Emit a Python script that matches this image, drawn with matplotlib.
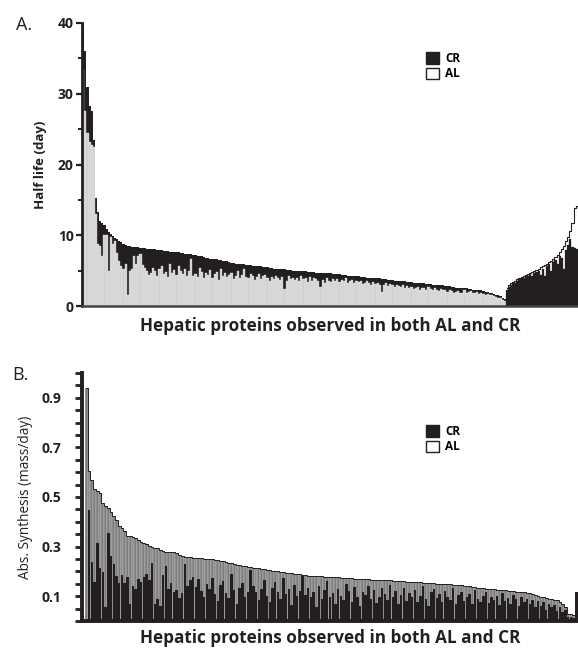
import numpy as np
import matplotlib
matplotlib.use("Agg")
import matplotlib.pyplot as plt
from matplotlib.patches import Patch
from matplotlib.ticker import FixedLocator

plt.rcParams['font.family'] = ['Open Sans', 'DejaVu Sans']

# ---------------- Panel A data (half life, days) ----------------
# proteins with CR > AL (sorted by CR, descending)
a_cr_left = [
    40.0, 36.0, 31.0, 28.2, 27.5, 23.5, 15.2, 13.3, 12.0, 11.8,
    11.4, 10.9, 10.5, 10.2, 9.9, 9.6, 9.4, 9.2, 9.0, 8.8,
    8.6, 8.5, 8.5, 8.4, 8.3, 8.3, 8.3, 8.2, 8.2, 8.2,
    8.1, 8.1, 8.0, 8.0, 8.0, 7.9, 7.9, 7.9, 7.8, 7.8,
    7.8, 7.7, 7.7, 7.6, 7.6, 7.6, 7.5, 7.5, 7.4, 7.4,
    7.3, 7.3, 7.2, 7.2, 7.1, 7.0, 7.0, 6.9, 6.8, 6.8,
    6.7, 6.7, 6.6, 6.6, 6.5, 6.5, 6.4, 6.3, 6.3, 6.2,
    6.1, 6.1, 6.0, 6.0, 6.0, 5.9, 5.9, 5.8, 5.8, 5.8,
    5.7, 5.7, 5.6, 5.6, 5.6, 5.5, 5.5, 5.5, 5.4, 5.4,
    5.3, 5.3, 5.3, 5.2, 5.2, 5.2, 5.1, 5.1, 5.1, 5.0,
    5.0, 5.0, 5.0, 4.9, 4.9, 4.9, 4.8, 4.8, 4.8, 4.8,
    4.7, 4.7, 4.7, 4.7, 4.6, 4.6, 4.6, 4.6, 4.5, 4.5,
    4.5, 4.5, 4.4, 4.4, 4.4, 4.3, 4.3, 4.3, 4.2, 4.2,
    4.2, 4.1, 4.1, 4.1, 4.0, 4.0, 4.0, 3.9, 3.9, 3.9,
    3.9, 3.8, 3.8, 3.8, 3.7, 3.7, 3.7, 3.6, 3.6, 3.6,
    3.5, 3.5, 3.5, 3.4, 3.4, 3.4, 3.3, 3.3, 3.3, 3.2,
    3.2, 3.2, 3.1, 3.1, 3.1, 3.0, 3.0, 3.0, 2.9, 2.9,
    2.9, 2.8, 2.8, 2.8, 2.7, 2.7, 2.6, 2.6, 2.6, 2.5,
    2.5, 2.5, 2.4, 2.4, 2.3, 2.3, 2.3, 2.2, 2.2, 2.1,
    2.0, 2.0, 1.9, 1.8, 1.7, 1.6, 1.5, 1.4, 1.2, 1.0,
]
a_al_left = [
    33.3, 27.5, 24.5, 23.2, 22.8, 22.5, 13.0, 8.8, 8.5, 7.0,
    10.0, 10.0, 5.0, 9.7, 8.8, 9.2, 7.5, 6.3, 5.7, 5.2,
    6.0, 1.5, 5.0, 5.3, 7.1, 6.0, 7.0, 7.4, 5.8, 5.4,
    5.0, 4.4, 4.7, 5.4, 5.0, 4.3, 5.2, 5.7, 4.5, 4.8,
    4.1, 5.9, 4.6, 5.1, 4.4, 5.7, 5.0, 4.5, 5.3, 4.2,
    4.9, 6.7, 4.3, 4.5, 4.1, 5.4, 4.8, 4.0, 4.6, 4.4,
    5.1, 3.9, 4.5, 4.8, 3.7, 5.2, 4.3, 4.7, 4.1, 4.4,
    4.6, 3.8, 4.2, 4.9, 4.0, 4.4, 5.3, 4.1, 3.9, 4.5,
    4.3, 3.7, 4.1, 4.5, 3.8, 4.2, 4.4, 3.9, 3.6, 4.1,
    3.8, 4.3, 4.0, 3.7, 4.1, 2.4, 3.5, 4.2, 3.8, 4.0,
    3.7, 4.0, 3.5, 4.2, 3.8, 3.9, 3.4, 4.1, 3.6, 4.0,
    3.8, 3.5, 2.7, 3.7, 3.3, 4.0, 3.6, 3.4, 3.8, 3.5,
    3.8, 3.4, 3.7, 3.5, 3.9, 3.3, 3.6, 3.7, 3.2, 3.5,
    3.4, 3.6, 3.1, 3.3, 3.5, 3.2, 3.0, 3.4, 3.1, 3.3,
    2.9, 2.0, 3.0, 3.3, 2.8, 3.1, 2.9, 2.7, 3.0, 2.8,
    2.7, 2.9, 2.6, 2.8, 2.5, 2.7, 2.4, 2.6, 2.7, 2.3,
    2.6, 2.5, 2.3, 2.7, 2.4, 2.2, 2.5, 2.3, 2.1, 2.4,
    2.2, 2.3, 2.0, 2.2, 2.1, 1.9, 2.0, 2.1, 1.8, 1.9,
    2.2, 1.9, 2.0, 2.1, 1.8, 1.9, 2.0, 1.7, 1.8, 1.7,
    1.6, 1.7, 1.5, 1.5, 1.4, 1.3, 1.2, 1.1, 0.9, 0.7,
]
# proteins with AL > CR (sorted by AL, ascending)
a_al_right = [
    2.5, 2.9, 3.2, 3.4, 3.6, 3.8, 4.0, 4.1, 4.3, 4.4,
    4.5, 4.7, 4.8, 4.9, 5.1, 5.3, 5.5, 5.6, 5.8, 6.0,
    6.2, 6.4, 6.6, 6.9, 7.2, 7.6, 8.0, 8.5, 9.2, 9.8,
    10.6, 11.8, 13.9, 14.2,
]
a_cr_right = [
    2.3, 2.7, 3.0, 3.2, 3.3, 3.6, 3.8, 3.9, 4.0, 4.2,
    4.2, 4.5, 4.3, 4.7, 4.8, 5.0, 4.4, 5.3, 4.2, 5.6,
    5.9, 5.0, 6.2, 6.5, 6.0, 7.1, 6.8, 5.2, 7.9, 8.6,
    9.4, 8.3, 8.2, 8.0,
]

# ---------------- Panel B data (abs. synthesis, mass/day) ----------------
b_al = [
    0.940, 0.605, 0.568, 0.533, 0.523, 0.517, 0.476, 0.462, 0.456, 0.438,
    0.425, 0.408, 0.384, 0.375, 0.364, 0.344, 0.341, 0.338, 0.334, 0.325,
    0.320, 0.316, 0.311, 0.303, 0.298, 0.296, 0.294, 0.287, 0.283, 0.280,
    0.280, 0.280, 0.277, 0.273, 0.267, 0.262, 0.260, 0.257, 0.257, 0.256,
    0.254, 0.254, 0.253, 0.252, 0.251, 0.250, 0.248, 0.246, 0.245, 0.243,
    0.240, 0.237, 0.235, 0.232, 0.229, 0.226, 0.224, 0.222, 0.220, 0.219,
    0.217, 0.215, 0.214, 0.213, 0.211, 0.209, 0.207, 0.205, 0.203, 0.201,
    0.200, 0.198, 0.197, 0.195, 0.194, 0.193, 0.191, 0.190, 0.188, 0.186,
    0.184, 0.182, 0.181, 0.181, 0.180, 0.180, 0.180, 0.179, 0.179, 0.178,
    0.178, 0.177, 0.176, 0.175, 0.174, 0.173, 0.172, 0.172, 0.171, 0.170,
    0.169, 0.169, 0.168, 0.168, 0.167, 0.167, 0.166, 0.166, 0.166, 0.165,
    0.165, 0.164, 0.163, 0.162, 0.162, 0.161, 0.160, 0.159, 0.159, 0.158,
    0.157, 0.156, 0.156, 0.155, 0.154, 0.153, 0.153, 0.152, 0.151, 0.151,
    0.150, 0.150, 0.149, 0.148, 0.147, 0.146, 0.145, 0.144, 0.142, 0.141,
    0.140, 0.138, 0.137, 0.135, 0.133, 0.132, 0.131, 0.130, 0.129, 0.128,
    0.127, 0.126, 0.124, 0.123, 0.122, 0.121, 0.119, 0.118, 0.117, 0.116,
    0.115, 0.114, 0.112, 0.109, 0.104, 0.100, 0.098, 0.096, 0.093, 0.090,
    0.088, 0.086, 0.084, 0.078, 0.070, 0.057, 0.030, 0.028, 0.025, 0.118,
]
b_cr = [
    0.000, 0.449, 0.239, 0.158, 0.314, 0.212, 0.199, 0.057, 0.354, 0.262,
    0.230, 0.181, 0.152, 0.185, 0.154, 0.179, 0.070, 0.141, 0.131, 0.168,
    0.158, 0.179, 0.190, 0.165, 0.233, 0.068, 0.087, 0.060, 0.185, 0.222,
    0.131, 0.154, 0.118, 0.125, 0.091, 0.111, 0.230, 0.140, 0.165, 0.179,
    0.138, 0.168, 0.120, 0.095, 0.150, 0.128, 0.172, 0.108, 0.082, 0.145,
    0.160, 0.113, 0.092, 0.188, 0.125, 0.070, 0.135, 0.152, 0.098, 0.115,
    0.205, 0.140, 0.118, 0.085, 0.128, 0.165, 0.102, 0.075, 0.132, 0.158,
    0.118, 0.090, 0.172, 0.110, 0.128, 0.065, 0.145, 0.100, 0.122, 0.180,
    0.105, 0.135, 0.098, 0.118, 0.055, 0.142, 0.088, 0.125, 0.160, 0.095,
    0.112, 0.068, 0.130, 0.102, 0.085, 0.150, 0.120, 0.078, 0.138, 0.095,
    0.060, 0.118, 0.105, 0.140, 0.088, 0.125, 0.072, 0.098, 0.132, 0.110,
    0.085, 0.145, 0.095, 0.120, 0.070, 0.105, 0.135, 0.082, 0.112, 0.098,
    0.125, 0.078, 0.100, 0.140, 0.088, 0.060, 0.115, 0.130, 0.092, 0.108,
    0.075, 0.120, 0.098, 0.085, 0.132, 0.070, 0.105, 0.115, 0.082, 0.095,
    0.110, 0.068, 0.125, 0.090, 0.078, 0.102, 0.118, 0.072, 0.095, 0.085,
    0.100, 0.065, 0.112, 0.080, 0.092, 0.070, 0.105, 0.088, 0.060, 0.098,
    0.075, 0.090, 0.068, 0.085, 0.055, 0.080, 0.062, 0.075, 0.045, 0.070,
    0.058, 0.065, 0.040, 0.055, 0.035, 0.045, 0.018, 0.015, 0.012, 0.115,
]

a_yticks = [0, 10, 20, 30, 40]
b_yticks = [0.1, 0.3, 0.5, 0.7, 0.9]
xlabel = "Hepatic proteins observed in both AL and CR"

BLACK = '#231f20'

W, H = 578, 649
fig = plt.figure(figsize=(W / 100, H / 100), dpi=100)

# ---------------- Panel A ----------------
axA = fig.add_axes([82 / W, 1 - 306 / H, (578 - 82) / W, (306 - 23) / H])
cr_a = np.array(a_cr_left + a_cr_right)
al_a = np.array(a_al_left + a_al_right)
xa = np.arange(len(cr_a))
back = np.maximum(cr_a, al_a)
front = np.minimum(cr_a, al_a)
back_col = [BLACK if c >= a else 'white' for c, a in zip(cr_a, al_a)]
front_col = ['#cfcfcf' if a < c else BLACK for c, a in zip(cr_a, al_a)]
front_edge = ['white' if a < c else BLACK for c, a in zip(cr_a, al_a)]
axA.bar(xa, back, width=1.0, color=back_col, linewidth=0, zorder=1)
axA.bar(xa, front, width=1.0, color=front_col, edgecolor=front_edge,
        linewidth=0.2, zorder=2)
nl = len(a_cr_left)
xr = xa[nl:]
axA.step(xr, al_a[nl:], where='mid', color=BLACK, linewidth=0.8, zorder=3)
axA.set_xlim(-0.6, len(cr_a) - 0.4)
axA.set_ylim(0, 40)
axA.set_xticks([])
axA.set_yticks(a_yticks)
axA.yaxis.set_minor_locator(FixedLocator([5, 15, 25, 35]))
axA.tick_params(axis='y', which='major', direction='out', length=4, width=1.6,
                labelsize=10, pad=2, color=BLACK)
axA.tick_params(axis='y', which='minor', direction='out', length=3, width=1.4,
                color=BLACK)
for lab in axA.get_yticklabels():
    lab.set_fontweight('bold')
    lab.set_color(BLACK)
for s in ['top', 'right']:
    axA.spines[s].set_visible(False)
axA.spines['left'].set_linewidth(2.0)
axA.spines['left'].set_color(BLACK)
axA.spines['bottom'].set_linewidth(1.8)
axA.spines['bottom'].set_color('#444444')
axA.set_ylabel("Half life (day)", fontsize=9.5, fontweight='bold',
               color=BLACK, labelpad=8)
axA.set_xlabel(xlabel, fontsize=12.3, fontweight='bold', color=BLACK, labelpad=8)

hA = [Patch(facecolor=BLACK, edgecolor=BLACK, linewidth=1),
      Patch(facecolor='white', edgecolor=BLACK, linewidth=1)]
axA.legend(hA, ['CR', 'AL'], loc='upper left', bbox_to_anchor=(426 / W, 1 - 52 / H),
           bbox_transform=fig.transFigure, frameon=False, handlelength=1.1,
           handleheight=1.1, handletextpad=0.5, labelspacing=0.2, borderpad=0,
           borderaxespad=0, prop={'weight': 'bold', 'size': 8.5})

fig.text(16 / W, 1 - 25 / H, "A.", fontsize=13, fontweight='normal',
         color=BLACK, ha='left', va='center')

# ---------------- Panel B ----------------
axB = fig.add_axes([82 / W, 1 - 621 / H, (578 - 82) / W, (621 - 373) / H])
al_b = np.array(b_al)
cr_b = np.array(b_cr)
xb = np.arange(len(al_b))
axB.bar(xb, np.maximum(al_b, cr_b), width=1.0, color='#7c7c7c',
        edgecolor='white', linewidth=0.2, zorder=1)
axB.step(xb, np.maximum(al_b, cr_b), where='mid', color=BLACK, linewidth=0.7, zorder=2)
axB.bar(xb, np.minimum(al_b, cr_b), width=0.9, color=BLACK, linewidth=0, zorder=3)
axB.set_xlim(-1.6, len(al_b) - 0.4)
axB.set_ylim(0, 1.0)
axB.set_xticks([])
axB.set_yticks(b_yticks)
axB.yaxis.set_minor_locator(FixedLocator([0.0, 0.05, 0.15, 0.2, 0.25, 0.35, 0.4,
                                          0.45, 0.55, 0.6, 0.65, 0.75, 0.8,
                                          0.85, 0.95, 1.0]))
axB.tick_params(axis='y', which='both', direction='out', length=5, width=2.0,
                color=BLACK)
axB.tick_params(axis='y', which='major', labelsize=10, pad=10)
for lab in axB.get_yticklabels():
    lab.set_fontweight('bold')
    lab.set_color(BLACK)
for s in ['top', 'right']:
    axB.spines[s].set_visible(False)
axB.spines['left'].set_linewidth(2.8)
axB.spines['left'].set_color(BLACK)
axB.spines['bottom'].set_linewidth(2.8)
axB.spines['bottom'].set_color(BLACK)
axB.set_ylabel("Abs. Synthesis (mass/day)", fontsize=9.8, color=BLACK, labelpad=6)
axB.set_xlabel(xlabel, fontsize=12.3, fontweight='bold', color=BLACK, labelpad=6)

hB = [Patch(facecolor=BLACK, edgecolor=BLACK, linewidth=1),
      Patch(facecolor='white', edgecolor=BLACK, linewidth=1)]
axB.legend(hB, ['CR', 'AL'], loc='upper left', bbox_to_anchor=(426 / W, 1 - 425 / H),
           bbox_transform=fig.transFigure, frameon=False, handlelength=1.1,
           handleheight=1.1, handletextpad=0.5, labelspacing=0.2, borderpad=0,
           borderaxespad=0, prop={'weight': 'bold', 'size': 8.5})

fig.text(12 / W, 1 - 375 / H, "B.", fontsize=13, fontweight='normal',
         color=BLACK, ha='left', va='center')

fig.savefig("out.png", dpi=100)
